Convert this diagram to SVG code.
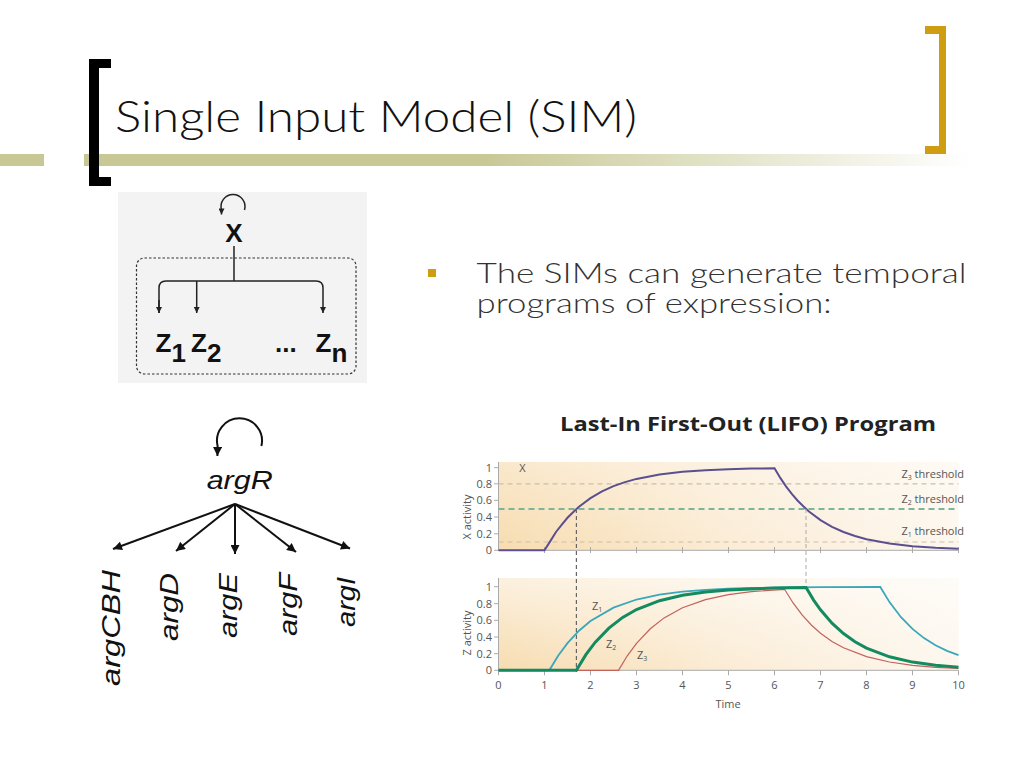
<svg xmlns="http://www.w3.org/2000/svg" width="1024" height="768" viewBox="0 0 1024 768">
<defs>
<style>
.title{font-family:Lato,"Open Sans","Liberation Sans",sans-serif;font-weight:300;fill:#111}
.body{font-family:Lato,"Open Sans","Liberation Sans",sans-serif;font-weight:300;fill:#333}
.zb{font-family:"Liberation Sans",Arial,sans-serif;font-weight:bold;font-size:26px;fill:#111}
.gene{font-family:"Liberation Sans",Arial,sans-serif;font-style:italic;font-size:26px;fill:#111}
.ax{font-family:"Open Sans","Liberation Sans",sans-serif;font-size:11px;fill:#555}
.ln{fill:none;stroke:#222;stroke-width:1.5}
.fan{fill:none;stroke:#111;stroke-width:2}
.tick{stroke:#aaa;stroke-width:1;fill:none}
</style>
<linearGradient id="olive" x1="84" y1="0" x2="970" y2="0" gradientUnits="userSpaceOnUse">
<stop offset="0" stop-color="#c8c896"/>
<stop offset="0.45" stop-color="#c8c896"/>
<stop offset="1" stop-color="#c8c896" stop-opacity="0"/>
</linearGradient>
<linearGradient id="bgh" x1="498" y1="0" x2="958" y2="0" gradientUnits="userSpaceOnUse">
<stop offset="0" stop-color="#f7dcb0"/>
<stop offset="0.5" stop-color="#fbecd5"/>
<stop offset="1" stop-color="#fdf7ee"/>
</linearGradient>
<linearGradient id="fadeTop" x1="0" y1="462" x2="0" y2="550" gradientUnits="userSpaceOnUse">
<stop offset="0" stop-color="#fff" stop-opacity="0.35"/>
<stop offset="1" stop-color="#fff" stop-opacity="0"/>
</linearGradient>
<linearGradient id="fadeBot" x1="0" y1="578" x2="0" y2="670" gradientUnits="userSpaceOnUse">
<stop offset="0" stop-color="#fff" stop-opacity="0.6"/>
<stop offset="1" stop-color="#fff" stop-opacity="0"/>
</linearGradient>
<marker id="ahs" viewBox="0 0 10 10" refX="10" refY="5" markerWidth="7" markerHeight="6" orient="auto" markerUnits="userSpaceOnUse">
<path d="M0,0 L10,5 L0,10 z" fill="#222"/>
</marker>
<marker id="ahl" viewBox="0 0 10 10" refX="10" refY="5" markerWidth="12" markerHeight="9" orient="auto" markerUnits="userSpaceOnUse">
<path d="M0,0 L10,5 L0,10 z" fill="#111"/>
</marker>
</defs>
<rect width="1024" height="768" fill="#fff"/>

<g id="decor">
<rect x="0" y="154" width="44" height="12" fill="#c8c896"/>
<rect x="84" y="154" width="886" height="12" fill="url(#olive)"/>
<path d="M111,59 H89 V186 H111 V177 H99 V68 H111 Z" fill="#000"/>
<path d="M925,26 H946 V154 H925 V146 H939 V34 H925 Z" fill="#cf9d12"/>
</g>

<g id="title"><text class="title" x="115" y="132" font-size="44" textLength="522" lengthAdjust="spacingAndGlyphs">Single Input Model (SIM)</text></g>

<g id="sim-panel">
<rect x="118" y="192" width="249" height="191" fill="#f3f3f3"/>
<rect x="136.5" y="258" width="219.5" height="116" rx="8" fill="none" stroke="#333" stroke-width="1.2" stroke-dasharray="2.5,2"/>
</g>
<g id="node-X"><text class="zb" x="234" y="242" text-anchor="middle">X</text></g>
<g id="node-Z1"><text class="zb" x="155.5" y="352">Z<tspan dy="10">1</tspan></text></g>
<g id="node-Z2"><text class="zb" x="191" y="352">Z<tspan dy="10">2</tspan></text></g>
<g id="node-dots"><text class="zb" x="275" y="352">...</text></g>
<g id="node-Zn"><text class="zb" x="315.5" y="352">Z<tspan dy="10">n</tspan></text></g>

<g id="node-argR"><text class="gene" x="206.7" y="489" textLength="66" lengthAdjust="spacingAndGlyphs">argR</text></g>
<g id="node-argCBH"><text class="gene" transform="translate(120,686) rotate(-90)" textLength="116" lengthAdjust="spacingAndGlyphs">argCBH</text></g>
<g id="node-argD"><text class="gene" transform="translate(178,641) rotate(-90)" textLength="68" lengthAdjust="spacingAndGlyphs">argD</text></g>
<g id="node-argE"><text class="gene" transform="translate(237,638) rotate(-90)" textLength="65" lengthAdjust="spacingAndGlyphs">argE</text></g>
<g id="node-argF"><text class="gene" transform="translate(297,636) rotate(-90)" textLength="63" lengthAdjust="spacingAndGlyphs">argF</text></g>
<g id="node-argI"><text class="gene" transform="translate(355,627) rotate(-90)" textLength="50" lengthAdjust="spacingAndGlyphs">argI</text></g>

<g id="connectors">
<path class="ln" d="M244.5,210 A12,12 0 1 0 221.5,210 L221.5,214.5" marker-end="url(#ahs)"/>
<path class="ln" d="M234,246 V281"/>
<path class="ln" d="M159,313 V288 Q159,281 166,281 H316 Q323,281 323,288 V313" marker-end="url(#ahs)"/>
<path class="ln" d="M159,300 V313" marker-end="url(#ahs)"/>
<path class="ln" d="M196.7,281 V313" marker-end="url(#ahs)"/>
<path class="fan" d="M261.4,446 A22.5,22.5 0 1 0 217.6,446 L217.4,456" marker-end="url(#ahl)"/>
<path class="fan" d="M235,504 L113,549" marker-end="url(#ahl)"/>
<path class="fan" d="M235,504 L176,551" marker-end="url(#ahl)"/>
<path class="fan" d="M235,504 L235,554" marker-end="url(#ahl)"/>
<path class="fan" d="M235,504 L296,552" marker-end="url(#ahl)"/>
<path class="fan" d="M235,504 L350,548.5" marker-end="url(#ahl)"/>
</g>

<g id="bullet">
<rect x="428" y="269" width="8" height="8" fill="#cf9d12"/>
<text class="body" font-size="27" x="476.6" y="283" textLength="490" lengthAdjust="spacingAndGlyphs">The SIMs can generate temporal</text>
<text class="body" font-size="27" x="476.6" y="313" textLength="355" lengthAdjust="spacingAndGlyphs">programs of expression:</text>
</g>

<g id="chart-title"><text x="560" y="431" font-family="'Open Sans','Liberation Sans',sans-serif" font-weight="bold" font-size="19" fill="#222" textLength="376" lengthAdjust="spacingAndGlyphs">Last-In First-Out (LIFO) Program</text></g>

<g id="chart">
<rect x="498.5" y="462" width="460" height="88.3" fill="url(#bgh)"/>
<rect x="498.5" y="462" width="460" height="88.3" fill="url(#fadeTop)"/>
<rect x="498.5" y="578" width="460" height="92.3" fill="url(#bgh)"/>
<rect x="498.5" y="578" width="460" height="92.3" fill="url(#fadeBot)"/>
<path class="tick" d="M498.5,462 V550.3 H958.5 M494,467.7 H498.5 M494,483.8 H498.5 M494,500.3 H498.5 M494,517 H498.5 M494,533.8 H498.5 M494,550.3 H498.5"/>
<path class="tick" d="M544.5,547 v6 M590.5,547 v6 M636.5,547 v6 M682.5,547 v6 M728.5,547 v6 M774.5,547 v6 M820.5,547 v6 M866.5,547 v6 M912.5,547 v6 M958.5,547 v6"/>
<g class="ax" text-anchor="end">
<text x="492" y="471.5">1</text><text x="492" y="487.5">0.8</text><text x="492" y="504">0.6</text><text x="492" y="521">0.4</text><text x="492" y="537.5">0.2</text><text x="492" y="554">0</text>
</g>
<text class="ax" font-size="12" transform="translate(471,517) rotate(-90)" text-anchor="middle">X activity</text>
<text class="ax" font-size="12" x="522.5" y="472" text-anchor="middle">X</text>
<path d="M498.5,483.8 H958.5" stroke="#cbbfa8" stroke-width="1.2" stroke-dasharray="5,4" fill="none"/>
<path d="M498.5,509 H958.5" stroke="#7db59a" stroke-width="2" stroke-dasharray="6,4" fill="none"/>
<path d="M498.5,542 H958.5" stroke="#cbbfa8" stroke-width="1.2" stroke-dasharray="5,4" fill="none"/>
<g class="ax" text-anchor="end">
<text x="964" y="477.5">Z<tspan font-size="7" dy="2">3</tspan><tspan dy="-2"> threshold</tspan></text>
<text x="964" y="502.5">Z<tspan font-size="7" dy="2">2</tspan><tspan dy="-2"> threshold</tspan></text>
<text x="964" y="535">Z<tspan font-size="7" dy="2">1</tspan><tspan dy="-2"> threshold</tspan></text>
</g>
<polyline fill="none" stroke="#5b4f8f" stroke-width="2" points="498.5,550.3 544.5,550.3 550.3,541.1 556,532.0 561.8,524.6 567.5,517.8 573.3,512 579,506.7 590.5,498.1 602,491.4 613.5,486.1 625,482.1 636.5,478.9 659.5,474.5 682.5,471.8 705.5,470.2 728.5,469.2 751.5,468.6 774.5,468.3 780.3,477.9 786,486.4 791.8,493.9 797.5,500.5 803.3,506.3 809,511.5 820.5,520.1 832,526.8 843.5,532.0 855,536.0 866.5,539.2 889.5,543.6 912.5,546.2 935.5,547.8 958.5,548.8"/>
<path d="M576.4,509 V672" stroke="#666" stroke-width="1.2" stroke-dasharray="4,3" fill="none"/>
<path d="M806,509 V587" stroke="#aaa" stroke-width="1" stroke-dasharray="4,3" fill="none"/>
<path class="tick" d="M498.5,578 V670.3 H958.5 M494,586.7 H498.5 M494,603.7 H498.5 M494,620.3 H498.5 M494,637 H498.5 M494,653.7 H498.5 M494,670.3 H498.5"/>
<path class="tick" d="M498.5,670.3 v5 M544.5,670.3 v5 M590.5,670.3 v5 M636.5,670.3 v5 M682.5,670.3 v5 M728.5,670.3 v5 M774.5,670.3 v5 M820.5,670.3 v5 M866.5,670.3 v5 M912.5,670.3 v5 M958.5,670.3 v5"/>
<g class="ax" text-anchor="end">
<text x="492" y="590.5">1</text><text x="492" y="607.5">0.8</text><text x="492" y="624">0.6</text><text x="492" y="641">0.4</text><text x="492" y="657.5">0.2</text><text x="492" y="674">0</text>
</g>
<text class="ax" font-size="12" transform="translate(471,633) rotate(-90)" text-anchor="middle">Z activity</text>
<g class="ax" text-anchor="middle">
<text x="498.5" y="689">0</text><text x="544.5" y="689">1</text><text x="590.5" y="689">2</text><text x="636.5" y="689">3</text><text x="682.5" y="689">4</text><text x="728.5" y="689">5</text><text x="774.5" y="689">6</text><text x="820.5" y="689">7</text><text x="866.5" y="689">8</text><text x="912.5" y="689">9</text><text x="958.5" y="689">10</text>
</g>
<text class="ax" font-size="12" x="728" y="708" text-anchor="middle">Time</text>
<polyline fill="none" stroke="#c2625c" stroke-width="1.2" points="498.5,670.3 618.5,670.3 627.3,655.8 636.5,643.3 650.3,628.8 664.1,617.9 682.5,607.7 705.5,599.6 728.5,594.6 751.5,591.6 784.6,589.3 792.9,602.7 802.1,614.9 811.3,625.0 820.5,633.2 832,641.4 843.5,647.8 866.5,656.6 889.5,662.0 912.5,665.3 935.5,667.3 958.5,668.5"/>
<polyline fill="none" stroke="#3aa7ba" stroke-width="1.8" points="498.5,670.3 549.3,670.3 558.3,655.5 567.5,643.1 579,630.7 590.5,621.0 613.5,607.6 636.5,599.5 659.5,594.6 682.5,591.6 705.5,589.8 728.5,588.7 751.5,588.0 774.5,587.6 797.5,587.4 820.5,587.2 880.3,587 889.5,602.1 901,617.2 912.5,628.9 924,638.1 935.5,645.2 947,650.8 958.5,655.1"/>
<polyline fill="none" stroke="#138a60" stroke-width="3" points="498.5,670.3 576.4,670.3 585.9,654.7 595.1,642.4 608.9,628.1 622.7,617.4 636.5,609.5 659.5,600.7 682.5,595.3 705.5,592.0 728.5,590.1 751.5,588.9 774.5,588.1 806.1,587.6 813.6,600.1 820.5,609.8 832,623.2 843.5,633.6 855,641.7 866.5,648.1 889.5,656.8 912.5,662.1 935.5,665.3 958.5,667.3"/>
<g class="ax" font-size="12">
<text x="592" y="610">Z<tspan font-size="7" dy="2">1</tspan></text>
<text x="606" y="648">Z<tspan font-size="7" dy="2">2</tspan></text>
<text x="637" y="659">Z<tspan font-size="7" dy="2">3</tspan></text>
</g>
</g>
</svg>
